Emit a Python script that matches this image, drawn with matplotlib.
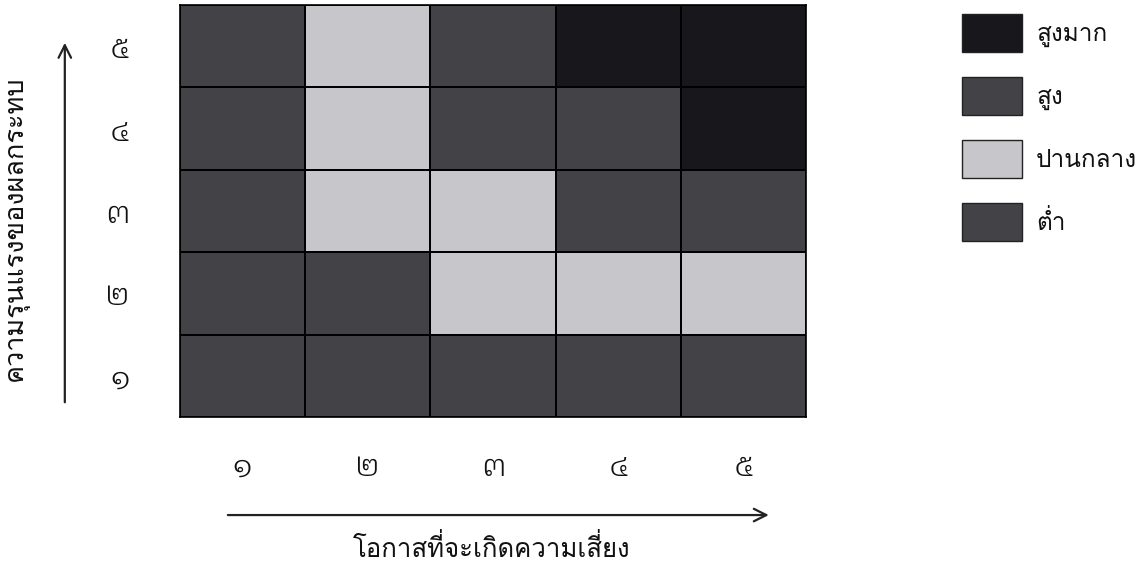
import matplotlib
matplotlib.use("Agg")
import matplotlib.pyplot as plt
import numpy as np
from matplotlib import font_manager
from matplotlib.colors import ListedColormap
from matplotlib.patches import Patch
from matplotlib.ft2font import FT2Font

# look for installed fonts that have Thai glyphs
thai_fonts = []
for f in font_manager.fontManager.ttflist:
    try:
        if 0x0E51 in FT2Font(f.fname).get_charmap():
            thai_fonts.append(f)
    except Exception:
        pass
regular = [f for f in thai_fonts if f.weight in (400, "normal", "regular")]
main = (regular or thai_fonts or [None])[0]
families = [main.name, "DejaVu Sans"] if main else ["DejaVu Sans"]
plt.rcParams["font.family"] = families

def wnum(w):
    return w if isinstance(w, int) else 400

# a light looped Thai face for the digits
digit_fp = None
if thai_fonts:
    light = min(thai_fonts, key=lambda f: ("Looped" not in f.name, "Serif" in f.name,
                                           abs(wnum(f.weight) - 320)))
    digit_fp = font_manager.FontProperties(fname=light.fname)

# data
likelihood_labels = ["๑", "๒", "๓", "๔", "๕"]
impact_labels = ["๑", "๒", "๓", "๔", "๕"]
# risk level per cell, rows = impact 1..5 (bottom to top), cols = likelihood 1..5
# 0 = ต่ำ, 1 = ปานกลาง, 2 = สูง, 3 = สูงมาก
risk_row1 = [0, 0, 0, 0, 0]
risk_row2 = [0, 0, 1, 1, 1]
risk_row3 = [0, 1, 1, 2, 2]
risk_row4 = [0, 1, 2, 2, 3]
risk_row5 = [0, 1, 2, 3, 3]
level_names = ["ต่ำ", "ปานกลาง", "สูง", "สูงมาก"]
level_colors = ["#434347", "#c6c6cb", "#434347", "#18181c"]

risk = np.array([risk_row1, risk_row2, risk_row3, risk_row4, risk_row5])

W, H = 1138, 569
fig = plt.figure(figsize=(W / 100, H / 100), dpi=100)
ax = fig.add_axes([180 / W, 1 - 417 / H, 626 / W, 412 / H])

ax.pcolormesh(np.arange(6) + 0.5, np.arange(6) + 0.5, risk,
              cmap=ListedColormap(level_colors), vmin=-0.5, vmax=3.5,
              edgecolors="black", linewidth=1.2)
ax.set_xlim(0.5, 5.5)
ax.set_ylim(0.5, 5.5)
ax.set_xticks(np.arange(1, 6))
ax.set_xticklabels(likelihood_labels, fontproperties=digit_fp)
ax.set_yticks(np.arange(1, 6))
ax.set_yticklabels(impact_labels, fontproperties=digit_fp)
for lab in ax.get_xticklabels() + ax.get_yticklabels():
    lab.set_fontsize(23)
    lab.set_color("#111111")
ax.tick_params(axis="x", length=0, pad=25)
ax.tick_params(axis="y", length=0, pad=36)
for s in ax.spines.values():
    s.set_linewidth(1.2)

# arrows
arrow = dict(arrowstyle="->,head_length=0.9,head_width=0.45", lw=1.6, color="#222222")
ax.annotate("", xy=(-0.184, 0.915), xytext=(-0.184, 0.029),
            xycoords="axes fraction", textcoords="axes fraction",
            arrowprops=arrow, annotation_clip=False)
ax.annotate("", xy=(0.945, -0.238), xytext=(0.072, -0.238),
            xycoords="axes fraction", textcoords="axes fraction",
            arrowprops=arrow, annotation_clip=False)

fig.text(492 / W, 1 - 548 / H, "โอกาสที่จะเกิดความเสี่ยง", ha="center", va="center",
         fontsize=18.5, color="#111111")
fig.text(17 / W, 1 - 228 / H, "ความรุนแรงของผลกระทบ", ha="center", va="center",
         rotation=90, fontsize=19.5, color="#111111")

handles = [Patch(facecolor=level_colors[i], edgecolor="#222222", linewidth=1)
           for i in [3, 2, 1, 0]]
labels = [level_names[i] for i in [3, 2, 1, 0]]
fig.legend(handles, labels, loc="upper left", bbox_to_anchor=(962 / W, 1 - 14 / H),
           frameon=False, fontsize=17.5, labelcolor="#111111",
           handlelength=2.45, handleheight=2.0,
           labelspacing=1.05, handletextpad=0.6, borderpad=0, borderaxespad=0)

fig.savefig("out.png", dpi=100)
